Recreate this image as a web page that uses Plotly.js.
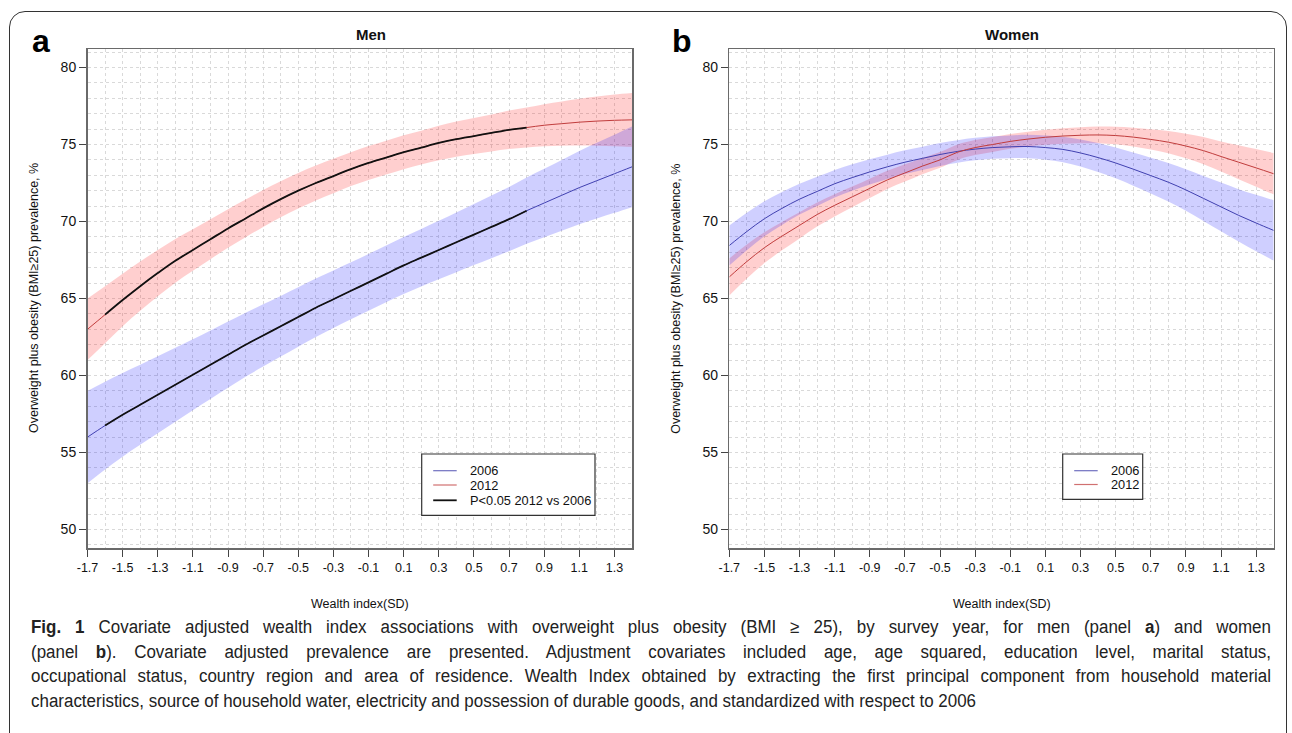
<!DOCTYPE html>
<html>
<head>
<meta charset="utf-8">
<script src="https://cdn.plot.ly/plotly-3.0.1.min.js"></script>
<style>
  html, body { margin: 0; padding: 0; background: #fff; }
  #wrap { position: relative; width: 1292px; height: 733px; overflow: hidden; background: #fff; }
  #chart { position: absolute; left: 0; top: 0; width: 1292px; height: 733px; }
  #frame { position: absolute; left: 9px; top: 11px; width: 1278px; height: 760px;
           border: 1.5px solid #333; border-radius: 16px; box-sizing: border-box; pointer-events: none; }
  #caption { position: absolute; left: 31px; top: 615px; width: 1240px; color: #222;
             font-family: "Liberation Sans", Arial, sans-serif;
             font-size: 18px; line-height: 24.6px; transform-origin: 0 0; }
  #caption .ln { text-align: justify; text-align-last: justify; white-space: normal; }
  #caption .last { text-align: left; text-align-last: left; }
</style>
</head>
<body>
<div id="wrap">
  <div id="chart"></div>
  <div id="frame"></div>
  <div id="caption">
    <div class="ln"><b>Fig. 1</b> Covariate adjusted wealth index associations with overweight plus obesity (BMI ≥ 25), by survey year, for men (panel <b>a</b>) and women</div>
    <div class="ln">(panel <b>b</b>). Covariate adjusted prevalence are presented. Adjustment covariates included age, age squared, education level, marital status,</div>
    <div class="ln">occupational status, country region and area of residence. Wealth Index obtained by extracting the first principal component from household material</div>
    <div class="ln last">characteristics, source of household water, electricity and possession of durable goods, and standardized with respect to 2006</div>
  </div>
</div>
<script>
// ---------------- DATA ----------------
const wealth = [-1.7,-1.6,-1.5,-1.4,-1.3,-1.2,-1.1,-1.0,-0.9,-0.8,-0.7,-0.6,-0.5,-0.4,-0.3,-0.2,-0.1,0.0,0.1,0.2,0.3,0.4,0.5,0.6,0.7,0.8,0.9,1.0,1.1,1.2,1.3,1.4];

// Men, 2012
const men2012 = [63.0,63.95,64.9,65.8,66.65,67.45,68.15,68.85,69.55,70.2,70.85,71.45,72.0,72.5,72.95,73.4,73.8,74.15,74.5,74.8,75.1,75.35,75.55,75.75,75.95,76.1,76.25,76.35,76.45,76.52,76.57,76.6];
const men2012Upper = [65.0,65.8,66.6,67.4,68.15,68.87,69.5,70.15,70.8,71.42,72.05,72.62,73.15,73.63,74.07,74.5,74.9,75.25,75.6,75.9,76.22,76.49,76.72,76.95,77.2,77.4,77.62,77.79,77.97,78.12,78.25,78.35];
const men2012Lower = [61.0,62.1,63.2,64.2,65.15,66.03,66.8,67.55,68.3,68.98,69.65,70.28,70.85,71.37,71.83,72.3,72.7,73.05,73.4,73.7,73.98,74.21,74.38,74.55,74.7,74.8,74.88,74.91,74.93,74.92,74.89,74.85];

// Men, 2006
const men2006 = [56.0,56.75,57.45,58.1,58.75,59.4,60.05,60.7,61.35,62.0,62.6,63.2,63.8,64.4,64.95,65.5,66.05,66.6,67.15,67.65,68.15,68.65,69.15,69.65,70.15,70.7,71.2,71.7,72.2,72.65,73.1,73.55];
const men2006Upper = [59.0,59.6,60.17,60.7,61.25,61.8,62.35,62.92,63.5,64.08,64.62,65.17,65.73,66.3,66.82,67.35,67.89,68.44,69.0,69.52,70.05,70.59,71.13,71.68,72.24,72.85,73.42,74.0,74.58,75.11,75.64,76.17];
const men2006Lower = [53.0,53.9,54.73,55.5,56.25,57.0,57.75,58.48,59.2,59.92,60.58,61.23,61.87,62.5,63.08,63.65,64.21,64.76,65.3,65.78,66.25,66.71,67.17,67.62,68.06,68.55,68.98,69.4,69.82,70.19,70.56,70.93];

// Range of wealth index where P<0.05 (2012 vs 2006), men
const menSignificant = [-1.6, 0.8];

// Women, 2006
const women2006 = [68.44,69.35,70.18,70.85,71.45,71.95,72.45,72.85,73.22,73.55,73.85,74.1,74.35,74.55,74.7,74.8,74.85,74.87,74.8,74.68,74.45,74.15,73.8,73.4,72.98,72.55,72.05,71.5,70.95,70.4,69.9,69.42];
const women2006Upper = [69.74,70.57,71.32,71.92,72.45,72.9,73.35,73.71,74.04,74.34,74.62,74.85,75.09,75.28,75.43,75.53,75.59,75.63,75.59,75.51,75.33,75.09,74.8,74.48,74.14,73.8,73.4,72.96,72.53,72.1,71.73,71.38];
const women2006Lower = [67.14,68.13,69.04,69.78,70.45,71.0,71.55,71.99,72.4,72.76,73.08,73.35,73.61,73.82,73.97,74.07,74.11,74.11,74.01,73.85,73.57,73.21,72.8,72.32,71.82,71.3,70.7,70.04,69.37,68.7,68.07,67.46];

// Women, 2012
const women2012 = [66.4,67.4,68.3,69.05,69.75,70.45,71.05,71.6,72.15,72.7,73.15,73.6,74.0,74.5,74.8,75.0,75.2,75.35,75.47,75.55,75.6,75.62,75.58,75.48,75.33,75.15,74.9,74.6,74.22,73.85,73.48,73.1];
const women2012Upper = [67.6,68.5,69.3,69.97,70.6,71.23,71.77,72.27,72.78,73.29,73.71,74.13,74.51,75.0,75.29,75.48,75.68,75.83,75.96,76.05,76.12,76.16,76.15,76.09,75.99,75.87,75.7,75.48,75.2,74.95,74.7,74.45];
const women2012Lower = [65.2,66.3,67.3,68.13,68.9,69.67,70.33,70.93,71.52,72.11,72.59,73.07,73.49,74.0,74.31,74.52,74.72,74.87,74.98,75.05,75.08,75.08,75.01,74.87,74.67,74.43,74.1,73.72,73.24,72.75,72.26,71.75];

// Axis ticks
const xTickVals = [-1.7,-1.5,-1.3,-1.1,-0.9,-0.7,-0.5,-0.3,-0.1,0.1,0.3,0.5,0.7,0.9,1.1,1.3];
const xTickText = ['-1.7','-1.5','-1.3','-1.1','-0.9','-0.7','-0.5','-0.3','-0.1','0.1','0.3','0.5','0.7','0.9','1.1','1.3'];
const yTickVals = [50,55,60,65,70,75,80];

// Texts
const panelTitles = ['Men', 'Women'];
const panelLetters = ['a', 'b'];
const xTitle = 'Wealth index(SD)';
const yTitle = 'Overweight plus obesity (BMI≥25) prevalence, %';
const legendA = ['2006', '2012', 'P<0.05 2012 vs 2006'];
const legendB = ['2006', '2012'];

// ---------------- STYLE / LAYOUT ----------------
const W = 1292, H = 733;
const px = v => v / W;
const py = v => 1 - v / H;
const FONT = 'Liberation Sans, Arial, Helvetica, sans-serif';
const BLUE = '#4040b0', RED = '#c03c3c', BLACK = '#111111';
const BLUE_FILL = 'rgba(0,0,255,0.19)', RED_FILL = 'rgba(255,0,0,0.19)';

const plotA = {x0: 87.5, x1: 632, y0: 49, y1: 548};
const plotB = {x0: 729.3, x1: 1273.7, y0: 49, y1: 548};

function band(lower, upper, color, xa, ya) {
  return [
    {x: wealth, y: lower, type: 'scatter', mode: 'lines', line: {width: 0, shape: 'spline'}, hoverinfo: 'skip', showlegend: false, xaxis: xa, yaxis: ya},
    {x: wealth, y: upper, type: 'scatter', mode: 'lines', line: {width: 0, shape: 'spline'}, fill: 'tonexty', fillcolor: color, hoverinfo: 'skip', showlegend: false, xaxis: xa, yaxis: ya}
  ];
}
function line(y, color, width, xa, ya, range) {
  let xs = wealth, ys = y;
  if (range) {
    xs = []; ys = [];
    wealth.forEach((w, i) => { if (w >= range[0] - 1e-9 && w <= range[1] + 1e-9) { xs.push(w); ys.push(y[i]); } });
  }
  return {x: xs, y: ys, type: 'scatter', mode: 'lines', line: {color: color, width: width, shape: 'spline'}, showlegend: false, xaxis: xa, yaxis: ya};
}

const data = [].concat(
  band(men2012Lower, men2012Upper, RED_FILL, 'x', 'y'),
  band(men2006Lower, men2006Upper, BLUE_FILL, 'x', 'y'),
  [line(men2006, BLUE, 1, 'x', 'y'), line(men2012, RED, 1, 'x', 'y'),
   line(men2006, BLACK, 1.8, 'x', 'y', menSignificant), line(men2012, BLACK, 1.8, 'x', 'y', menSignificant)],
  band(women2012Lower, women2012Upper, RED_FILL, 'x2', 'y2'),
  band(women2006Lower, women2006Upper, BLUE_FILL, 'x2', 'y2'),
  [line(women2006, BLUE, 1, 'x2', 'y2'), line(women2012, RED, 1, 'x2', 'y2')]
);

const GRID = '#d9d9d9';
function xAxis(p, anchor) {
  return {
    domain: [px(p.x0), px(p.x1)], anchor: anchor, range: [-1.7, 1.4],
    tickmode: 'array', tickvals: xTickVals, ticktext: xTickText,
    ticks: 'outside', ticklen: 7, tickwidth: 1, tickcolor: '#444',
    showline: true, mirror: true, linecolor: '#6a6a6a', linewidth: 1.5,
    showgrid: true, gridcolor: GRID, griddash: 'dot', gridwidth: 1, zeroline: false,
    tickfont: {family: FONT, size: 12.5, color: '#111'},
    minor: {tickmode: 'linear', tick0: -1.7, dtick: 0.1, showgrid: true, gridcolor: GRID, griddash: 'dot', gridwidth: 1, ticks: ''},
    fixedrange: true
  };
}
function yAxis(p, anchor) {
  return {
    domain: [py(p.y1), py(p.y0)], anchor: anchor, range: [48.8, 81.2],
    tickmode: 'array', tickvals: yTickVals,
    ticks: 'outside', ticklen: 7, tickwidth: 1, tickcolor: '#444',
    showline: true, mirror: true, linecolor: '#6a6a6a', linewidth: 1.5,
    showgrid: true, gridcolor: GRID, griddash: 'dot', gridwidth: 1, zeroline: false,
    tickfont: {family: FONT, size: 14, color: '#111'},
    minor: {tickmode: 'linear', tick0: 50, dtick: 1, showgrid: true, gridcolor: GRID, griddash: 'dot', gridwidth: 1, ticks: ''},
    fixedrange: true
  };
}

const annotations = [];
const shapes = [];
function ann(text, x, y, opts) {
  annotations.push(Object.assign({text: text, x: px(x), y: py(y), xref: 'paper', yref: 'paper', showarrow: false,
    xanchor: 'center', yanchor: 'middle', font: {family: FONT, size: 12.5, color: '#111'}}, opts || {}));
}
[plotA, plotB].forEach((p, i) => {
  const cx = (p.x0 + p.x1) / 2;
  ann('<b>' + panelTitles[i] + '</b>', cx + 11, 34.5, {font: {family: FONT, size: 15, color: '#111'}});
  ann('<b>' + panelLetters[i] + '</b>', p.x0 - 47, 41, {font: {family: FONT, size: 32, color: '#000'}});
  ann(xTitle, cx, 604, {font: {family: FONT, size: 12.5, color: '#111'}});
  ann(yTitle, p.x0 - 53, (p.y0 + p.y1) / 2, {textangle: -90, font: {family: FONT, size: 12.5, color: '#111'}});
});

function legend(box, rows, labels, colors) {
  shapes.push({type: 'rect', xref: 'paper', yref: 'paper', x0: px(box[0]), x1: px(box[1]), y0: py(box[3]), y1: py(box[2]),
    line: {color: '#333', width: 1.2}, fillcolor: '#fff', layer: 'above'});
  labels.forEach((lab, i) => {
    shapes.push({type: 'line', xref: 'paper', yref: 'paper', x0: px(box[0] + 11.5), x1: px(box[0] + 35), y0: py(rows[i]), y1: py(rows[i]),
      line: {color: colors[i], width: colors[i] === BLACK ? 1.8 : 1.2}, layer: 'above'});
    ann(lab, box[0] + 46, rows[i], {xanchor: 'left', font: {family: FONT, size: 12.8, color: '#111'}});
  });
}
legend([421.7, 595, 454, 515.3], [470.7, 485, 500.3], legendA, ['#7070c0', '#d07070', BLACK]);
legend([1062.7, 1142.7, 454, 499.3], [470.7, 484.5], legendB, ['#7070c0', '#d07070']);

const layout = {
  width: W, height: H, margin: {l: 0, r: 0, t: 0, b: 0},
  paper_bgcolor: 'rgba(0,0,0,0)', plot_bgcolor: '#fff',
  showlegend: false,
  xaxis: xAxis(plotA, 'y'), yaxis: yAxis(plotA, 'x'),
  xaxis2: xAxis(plotB, 'y2'), yaxis2: yAxis(plotB, 'x2'),
  annotations: annotations, shapes: shapes,
  font: {family: FONT}
};

Plotly.newPlot('chart', data, layout, {staticPlot: true, displayModeBar: false});

// Condense caption horizontally (narrow typeface look)
(function fitCaption() {
  const cap = document.getElementById('caption');
  const last = cap.querySelector('.last');
  const span = document.createElement('span');
  span.style.whiteSpace = 'nowrap';
  span.innerHTML = last.innerHTML;
  last.innerHTML = '';
  last.appendChild(span);
  const w = span.getBoundingClientRect().width;
  const s = 945 / w;
  cap.style.width = (1240 / s) + 'px';
  cap.style.transform = 'scaleX(' + s + ')';
})();
</script>
</body>
</html>
